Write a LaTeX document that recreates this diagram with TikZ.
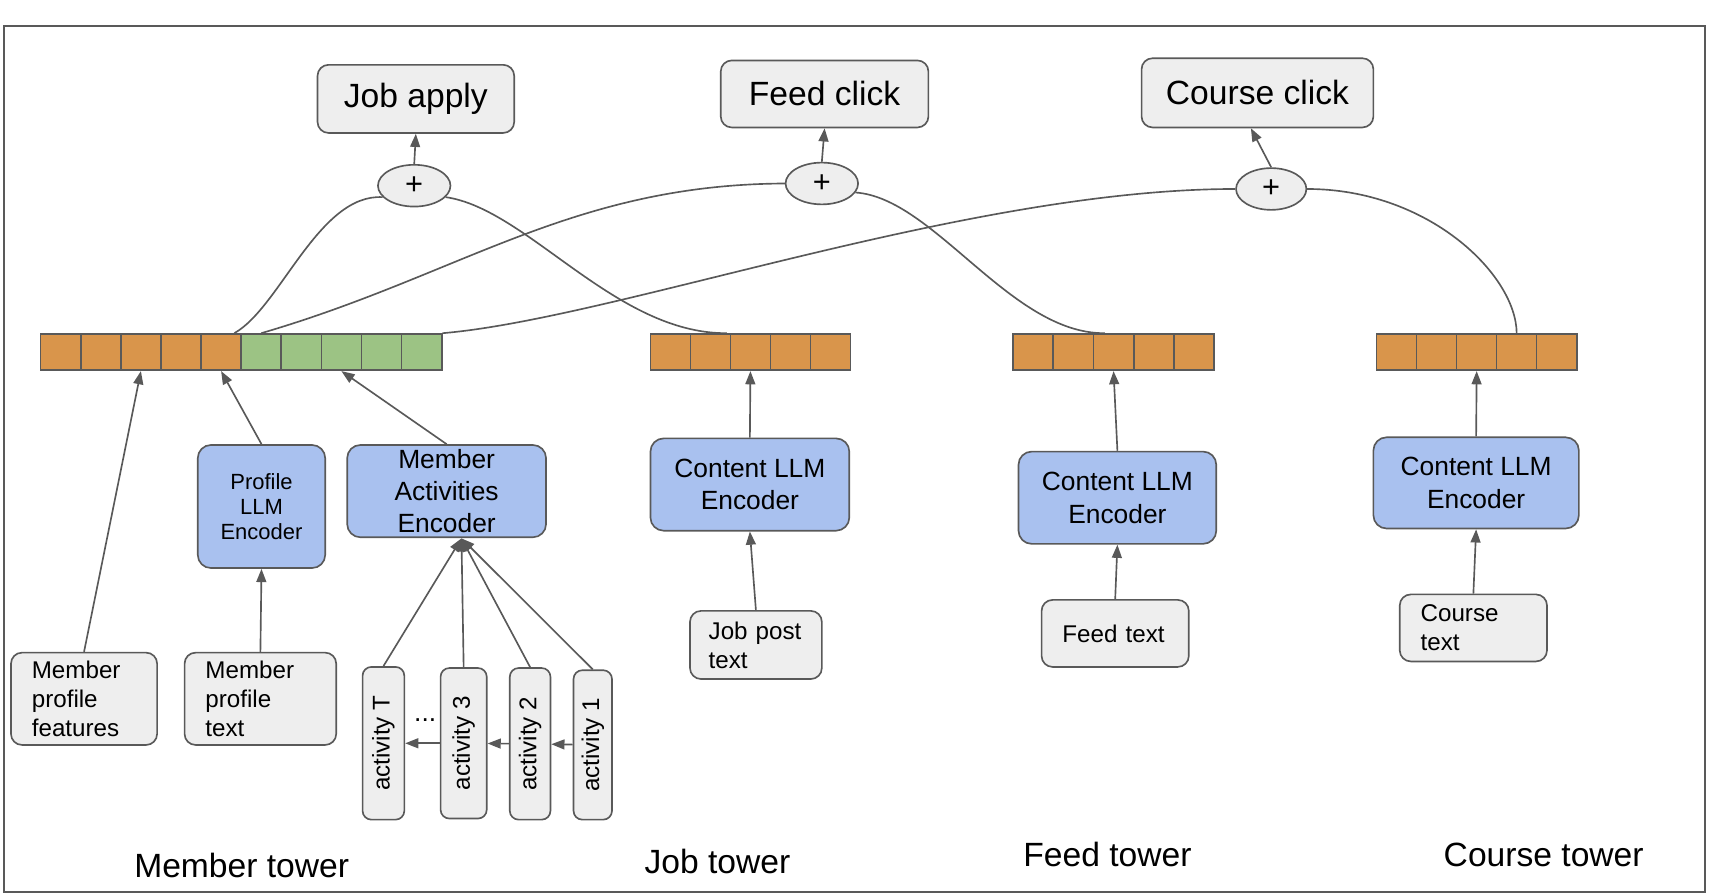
\documentclass[tikz,border=0pt]{standalone}
\usepackage{fontspec}
\setmainfont{Liberation Sans}
\usetikzlibrary{arrows.meta,shapes.geometric}
\definecolor{orng}{HTML}{D9954B}
\definecolor{grn}{HTML}{9CC384}
\definecolor{bluef}{HTML}{A9C1EF}
\definecolor{grayf}{HTML}{EEEEEE}
\definecolor{linec}{HTML}{595959}
\begin{document}
\begin{tikzpicture}[x=0.5pt,y=-0.5pt,
  line/.style={draw=linec, line width=0.75pt},
  arr/.style={line, -{Triangle[length=6pt,width=4.5pt]}},
  graybox/.style={draw=linec, line width=0.75pt, fill=grayf, rounded corners=5pt, align=left, inner xsep=9.5pt, inner ysep=0pt, font=\fontsize{11}{13.2}\selectfont},
  bluebox/.style={draw=linec, line width=0.75pt, fill=bluef, rounded corners=6pt, align=center, inner sep=0pt, font=\fontsize{12}{14.75}\selectfont},
  topbox/.style={draw=linec, line width=0.75pt, fill=grayf, rounded corners=5pt, inner sep=0pt, font=\fontsize{15.3}{18}\selectfont},
  plus/.style={ellipse, draw=linec, line width=0.75pt, fill=grayf, minimum width=33pt, minimum height=19pt, inner sep=0pt, font=\fontsize{14}{16}\selectfont},
  actbox/.style={draw=linec, line width=0.75pt, fill=grayf, rounded corners=4pt, rotate=90, inner sep=0pt, font=\fontsize{11}{13}\selectfont},
  cell/.style={draw=linec, line width=0.75pt, minimum width=18.25pt, minimum height=16.5pt, inner sep=0pt},
  tower/.style={font=\fontsize{15.3}{18}\selectfont}
]
\useasboundingbox (0,0) rectangle (1560,814);
\draw[linec, line width=1pt] (4,24) rectangle (1552,812);

% top boxes
\node[topbox, minimum width=89.5pt, minimum height=31pt] (ja) at (378.5,90) {Job apply};
\node[topbox, minimum width=94.5pt, minimum height=30.5pt] (fc) at (750.5,85.5) {Feed click};
\node[topbox, minimum width=105.5pt, minimum height=31.5pt] (ccl) at (1144.5,84.5) {Course click};

% plus nodes
\node[plus] (pj) at (377,169) {+};
\node[plus] (pf) at (748,167) {+};
\node[plus, minimum width=32pt] (pc) at (1157,172) {+};

% embedding vectors
\foreach \i in {1,...,5} \node[cell, fill=orng] (m\i) at ({18.75+36.5*\i},320.5) {};
\foreach \i in {6,...,10} \node[cell, fill=grn] (m\i) at ({18.75+36.5*\i},320.5) {};
\foreach \i in {1,...,5} \node[cell, fill=orng] (j\i) at ({573.8+36.4*\i},320.5) {};
\foreach \i in {1,...,5} \node[cell, fill=orng] (f\i) at ({903.7+36.6*\i},320.5) {};
\foreach \i in {1,...,5} \node[cell, fill=orng] (c\i) at ({1234.8+36.4*\i},320.5) {};

% blue encoders
\node[bluebox, minimum width=58pt, minimum height=56pt, font=\fontsize{10}{11.5}\selectfont] (plm) at (238,461) {Profile\\LLM\\Encoder};
\node[bluebox, minimum width=90.5pt, minimum height=42pt] (mae) at (406.5,447) {Member\\Activities\\Encoder};
\node[bluebox, minimum width=90.5pt, minimum height=42pt] (cj) at (682.5,441) {Content LLM\\Encoder};
\node[bluebox, minimum width=90pt, minimum height=42pt] (cf) at (1017,453) {Content LLM\\Encoder};
\node[bluebox, minimum width=93.5pt, minimum height=41.5pt] (cc) at (1343.5,439.5) {Content LLM\\Encoder};

% gray inputs
\node[graybox, text width=47.5pt, minimum height=42pt] (mpf) at (76.5,636) {Member\\profile\\features};
\node[graybox, text width=50pt, minimum height=42pt] (mpt) at (237,636) {Member\\profile\\text};
\node[graybox, inner xsep=8.5pt, text width=43pt, minimum height=31pt] (jpt) at (688,587) {Job post\\text};
\node[graybox, text width=48pt, minimum height=30.5pt] (ft) at (1015,576.5) {Feed text};
\node[graybox, text width=48pt, minimum height=30.5pt] (ct) at (1341,571.5) {Course\\text};

% activities
\node[actbox, minimum width=69.5pt, minimum height=19pt] (aT) at (349,676.5) {activity T};
\node[actbox, minimum width=68.5pt, minimum height=21pt] (a3) at (422,676.5) {activity 3};
\node[actbox, minimum width=69pt, minimum height=18.5pt] (a2) at (482.5,677) {activity 2};
\node[actbox, minimum width=68pt, minimum height=17.5pt] (a1) at (539.5,678) {activity 1};
\node[font=\fontsize{12}{14}\selectfont, inner sep=0pt] (dots) at (387,655) {...};
\coordinate (acttip) at (420,490);

% tower labels
\node[tower] (lm) at (220,788) {Member tower};
\node[tower] (lj) at (653,784) {Job tower};
\node[tower] (lf) at (1008,778) {Feed tower};
\node[tower] (lc) at (1405,778) {Course tower};

% arrows member tower
\draw[arr] (mpf.north) -- (m3.south);
\draw[arr] (plm.north) -- (m5.south);
\draw[arr] (mae.north) -- (m8.south);
\draw[arr] (mpt.north) -- (plm.south);
\draw[arr] (aT.east) -- (acttip);
\draw[arr] (a3.east) -- (acttip);
\draw[arr] (a2.east) -- (acttip);
\draw[arr] (a1.east) -- (acttip);
\draw[arr] (a1) -- (a2);
\draw[arr] (a2) -- (a3);
\draw[arr] (a3) -- (aT);

% other towers
\draw[arr] (cj.north) -- (j3.south);
\draw[arr] (jpt.north) -- (cj.south);
\draw[arr] (cf.north) -- (f3.south);
\draw[arr] (ft.north) -- (cf.south);
\draw[arr] (cc.north) -- (c3.south);
\draw[arr] (ct.north) -- (cc.south);

% plus to task
\draw[arr] (pj.north) -- (ja.south);
\draw[arr] (pf.north) -- (fc.south);
\draw[arr] (pc.north) -- ([xshift=-3pt]ccl.south);

% curves
\draw[line] ([xshift=-3.5pt]m5.north east) .. controls (255,280) and (290,176) .. (pj.200);
\draw[line] (m6.north) .. controls (420,250) and (520,168) .. (pf.west);
\draw[line] (m10.north east) .. controls (560,290) and (880,172) .. (pc.west);
\draw[line] (pj.-20) .. controls (480,190) and (560,304) .. ([xshift=-2pt]j2.north east);
\draw[line] (pf.-15) .. controls (850,180) and (920,304) .. ([xshift=-4pt]f3.north);
\draw[line] (pc.east) .. controls (1300,172) and (1380,250) .. (c4.north);
\end{tikzpicture}
\end{document}
